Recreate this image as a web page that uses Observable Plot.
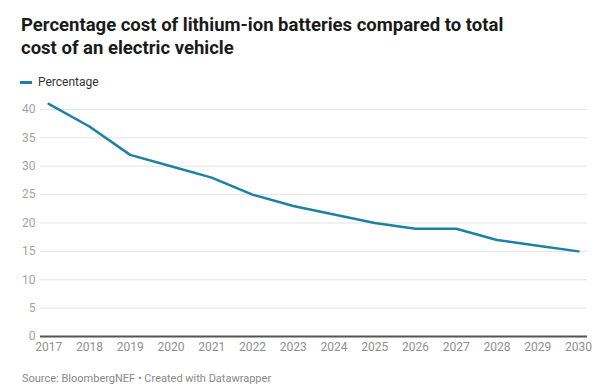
<!DOCTYPE html>
<html>
<head>
<meta charset="utf-8">
<script src="https://cdn.jsdelivr.net/npm/d3@7"></script>
<script src="https://cdn.jsdelivr.net/npm/@observablehq/plot@0.6"></script>
<style>
  html, body { margin: 0; padding: 0; background: #fff; font-family: Roboto, "Noto Sans", sans-serif; }
  #wrap { position: relative; width: 600px; height: 385px; overflow: hidden; }
  #title { position: absolute; left: 21px; top: 14px; width: 500px; font-size: 18.5px; font-weight: 700; line-height: 23px; color: #1a1a1a; }
  #legend { position: absolute; left: 20px; top: 75px; font-size: 12px; color: #333; display: flex; align-items: center; }
  #legend .sw { display: inline-block; width: 12px; height: 3px; background: #1d81a2; margin-right: 6px; }
  #chart { position: absolute; left: 0; top: 95px; }
  #caption { position: absolute; left: 22px; top: 372px; font-size: 11px; color: #888; }
</style>
</head>
<body>
<div id="wrap">
  <div id="title">Percentage cost of lithium-ion batteries compared to total cost of an electric vehicle</div>
  <div id="legend"><span class="sw"></span>Percentage</div>
  <div id="chart"></div>
  <div id="caption">Source: BloombergNEF • Created with Datawrapper</div>
</div>
<script>
const years = [2017, 2018, 2019, 2020, 2021, 2022, 2023, 2024, 2025, 2026, 2027, 2028, 2029, 2030];
const percentage = [41, 37, 32, 30, 28, 25, 23, 21.5, 20, 19, 19, 17, 16, 15];
const yTicks = [0, 5, 10, 15, 20, 25, 30, 35, 40];

const data = years.map((y, i) => ({year: y, value: percentage[i]}));

const chart = Plot.plot({
  width: 600,
  height: 270,
  marginLeft: 40,
  marginRight: 13,
  marginTop: 14,
  marginBottom: 29,
  style: { fontFamily: "Roboto, sans-serif", fontSize: "12px", color: "#999", background: "transparent" },
  x: { type: "linear", domain: [2016.8, 2030.22], ticks: years, tickFormat: d => String(d), tickSize: 0, tickPadding: 6, label: null },
  y: { domain: [0, 40], ticks: yTicks, tickSize: 0, tickPadding: 5, label: null },
  marks: [
    Plot.gridY(yTicks, { stroke: "#e3e3e3", strokeOpacity: 1 }),
    Plot.axisY(yTicks, { tickSize: 0, tickPadding: 5, fill: "#a3a3a3", fontSize: 12, label: null }),
    Plot.axisX(years, { tickSize: 0, tickPadding: 6, fill: "#8f8f8f", fontSize: 12, tickFormat: d => String(d), label: null }),
    Plot.ruleY([0], { stroke: "#555", strokeWidth: 2 }),
    Plot.line(data, { x: "year", y: "value", stroke: "#1d81a2", strokeWidth: 2.5 })
  ]
});
document.getElementById("chart").appendChild(chart);
</script>
</body>
</html>
